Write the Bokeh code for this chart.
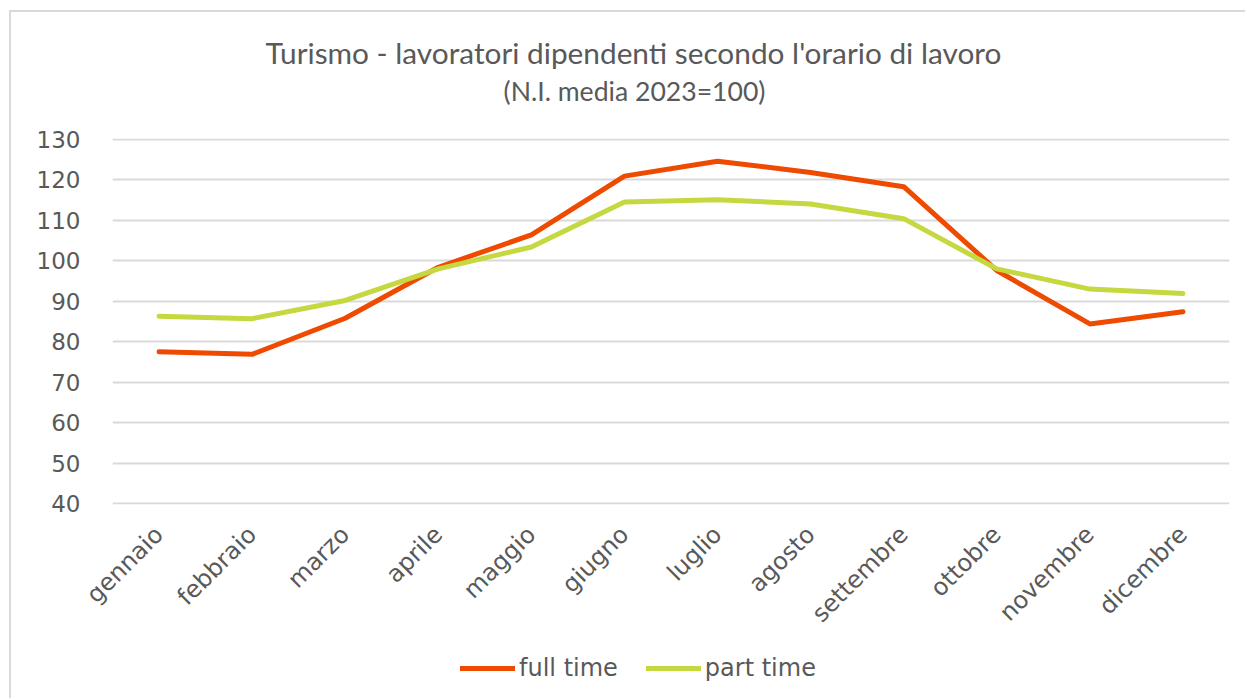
import math
from bokeh.plotting import figure
from bokeh.layouts import column
from bokeh.models import Label, Legend, LegendItem, SingleIntervalTicker
from bokeh.embed import file_html
from bokeh.resources import INLINE

months = ["gennaio", "febbraio", "marzo", "aprile", "maggio", "giugno",
          "luglio", "agosto", "settembre", "ottobre", "novembre", "dicembre"]
full_time = [77.5, 76.9, 85.8, 98.4, 106.4, 120.9, 124.6, 121.8, 118.3, 97.6, 84.4, 87.4]
part_time = [86.3, 85.7, 90.2, 98.0, 103.4, 114.5, 115.1, 114.0, 110.4, 98.0, 93.0, 91.9]

title_text = "Turismo - lavoratori dipendenti secondo l'orario di lavoro"
subtitle_text = "(N.I. media 2023=100)"
series_names = ["full time", "part time"]
colors = ["#EE4B00", "#C5D83F"]

TXT = "#595959"
GRID = "#D9D9D9"
FONT = "DejaVu Sans"
TFONT = "Lato"
W = 1234
LEFT = 101          # frame left inside the figures
FRAME_W = 1117


def blank(height):
    f = figure(width=W, height=height, output_backend="svg", toolbar_location=None,
               x_axis_location=None, y_axis_location=None,
               min_border_left=0, min_border_right=0,
               min_border_top=0, min_border_bottom=0)
    f.outline_line_color = None
    f.xgrid.visible = False
    f.ygrid.visible = False
    f.border_fill_color = "white"
    return f


# --- title block (frames of the column are aligned, so x is measured from the chart frame)
tf = blank(98)
tf.add_layout(Label(x=521, y=58, x_units="screen", y_units="screen", text=title_text,
                    text_align="center", text_baseline="middle", text_color=TXT,
                    text_font=TFONT, text_font_size="29.8px"))
tf.add_layout(Label(x=522, y=20, x_units="screen", y_units="screen", text=subtitle_text,
                    text_align="center", text_baseline="middle", text_color=TXT,
                    text_font=TFONT, text_font_size="26.6px"))

# --- main chart
p = figure(x_range=months, y_range=(39.8, 130.2), width=W, height=530,
           output_backend="svg", toolbar_location=None,
           min_border_left=LEFT, min_border_right=W - LEFT - FRAME_W,
           min_border_top=28, min_border_bottom=135)
p.outline_line_color = None
p.border_fill_color = "white"

p.line(months, full_time, line_color=colors[0], line_width=5, line_cap="round", line_join="round")
p.line(months, part_time, line_color=colors[1], line_width=5, line_cap="round", line_join="round")

p.xgrid.grid_line_color = None
p.ygrid.grid_line_color = GRID
p.ygrid.grid_line_width = 2
p.yaxis.ticker = SingleIntervalTicker(interval=10)
for ax in (p.xaxis[0], p.yaxis[0]):
    ax.axis_line_color = None
    ax.major_tick_line_color = None
    ax.minor_tick_line_color = None
    ax.major_label_text_color = TXT
    ax.major_label_text_font = FONT
p.yaxis.major_label_text_font_size = "23px"
p.xaxis.major_label_text_font_size = "24px"
p.yaxis.major_label_standoff = 26
p.xaxis.major_label_orientation = math.pi / 4
p.xaxis.major_label_standoff = 20

# --- legend block (one-point dummy renderers only feed the legend swatches)
lf = blank(58)
l1 = lf.line(x=[0], y=[0], line_color=colors[0], line_width=5, line_cap="round")
l2 = lf.line(x=[0], y=[0], line_color=colors[1], line_width=5, line_cap="round")
legend = Legend(items=[LegendItem(label=series_names[0], renderers=[l1]),
                       LegendItem(label=series_names[1], renderers=[l2])],
                orientation="horizontal", location=(348, 16),
                glyph_width=55, glyph_height=24, label_height=24, label_standoff=4, spacing=28,
                padding=0, margin=0, border_line_color=None, background_fill_alpha=0,
                label_text_font=FONT, label_text_font_size="24px", label_text_color=TXT)
lf.add_layout(legend, "center")

layout = column(tf, p, lf, spacing=0)
layout.styles = {"margin-left": "9px", "margin-top": "10px",
                 "border-left": "2px solid #D9D9D9", "border-top": "2px solid #D9D9D9"}
open("out.html", "w").write(file_html(layout, INLINE))
